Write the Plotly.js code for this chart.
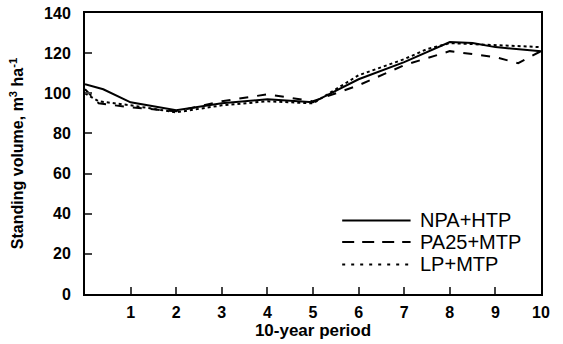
<!DOCTYPE html>
<html><head><meta charset="utf-8">
<script src="https://cdn.plot.ly/plotly-3.0.1.min.js"></script>
<style>html,body{margin:0;padding:0;background:#fff}#c{width:563px;height:344px}</style>
</head><body><div id="c"></div>
<script>
const seriesNames = ["NPA+HTP", "PA25+MTP", "LP+MTP"];
const xNPA = [0, 0.4, 1, 2, 3, 4, 5, 6, 7, 8, 8.5, 9, 10];
const yNPA = [104.5, 102, 95.5, 91.5, 95, 97, 95.5, 107, 115.5, 125.5, 125, 123, 121];
const xPA = [0, 0.3, 1, 2, 3, 4, 5, 6, 7, 8, 9, 9.5, 10];
const yPA = [102, 95, 93, 91, 96, 99.5, 96, 104, 114, 121, 118, 115, 121];
const xLP = [0, 0.3, 1, 2, 3, 4, 5, 6, 7, 7.5, 8, 9, 10];
const yLP = [100, 96, 94, 90.5, 94, 96, 95, 109, 117, 122, 125, 124, 123];
const xTicks = [1, 2, 3, 4, 5, 6, 7, 8, 9, 10];
const yTicks = [0, 20, 40, 60, 80, 100, 120, 140];

const dashes = ["solid", "dash", "dot"];
const xs = [xNPA, xPA, xLP], ys = [yNPA, yPA, yLP];
const traces = seriesNames.map((n, i) => ({
  x: xs[i], y: ys[i], name: n, type: "scatter", mode: "lines",
  line: {color: "#000", width: 2, dash: dashes[i]}, showlegend: false
}));

const F = "Liberation Sans, Arial, sans-serif";
const shapes = [], annotations = [];
const legY = [0.262, 0.185, 0.105];
seriesNames.forEach((n, i) => {
  shapes.push({type: "line", xref: "paper", yref: "paper", x0: 0.564, x1: 0.714, y0: legY[i], y1: legY[i],
    line: {color: "#000", width: 2, dash: dashes[i] === "dash" ? "12px,8px" : (dashes[i] === "dot" ? "3px,6px" : "solid")}});
  annotations.push({xref: "paper", yref: "paper", x: 0.73, y: legY[i], xanchor: "left", yanchor: "middle",
    text: n, showarrow: false, font: {family: F, size: 20, color: "#000"}});
});

const layout = {
  width: 563, height: 344,
  margin: {l: 85, r: 22, t: 13, b: 50},
  paper_bgcolor: "#fff", plot_bgcolor: "#fff",
  font: {family: F, color: "#000"},
  xaxis: {range: [0, 10], tickvals: xTicks, ticktext: xTicks.map(String), ticks: "inside", ticklen: 7, tickwidth: 2,
    showline: true, linewidth: 2, linecolor: "#000", mirror: true, showgrid: false, zeroline: false,
    tickfont: {family: F, size: 16, weight: "bold"}, ticklabelstandoff: 3,
    title: {text: "<b>10-year period</b>", font: {family: F, size: 17}, standoff: 4}},
  yaxis: {range: [0, 140], tickvals: yTicks, ticks: "inside", ticklen: 7, tickwidth: 2,
    showline: true, linewidth: 2, linecolor: "#000", mirror: true, showgrid: false, zeroline: false,
    tickfont: {family: F, size: 16, weight: "bold"}, ticklabelstandoff: 9,
    title: {text: "<b>Standing volume, m<sup>3</sup> ha<sup>-1</sup></b>", font: {family: F, size: 16}, standoff: 16}},
  shapes: shapes, annotations: annotations
};
Plotly.newPlot("c", traces, layout, {staticPlot: true, displayModeBar: false});
</script></body></html>
